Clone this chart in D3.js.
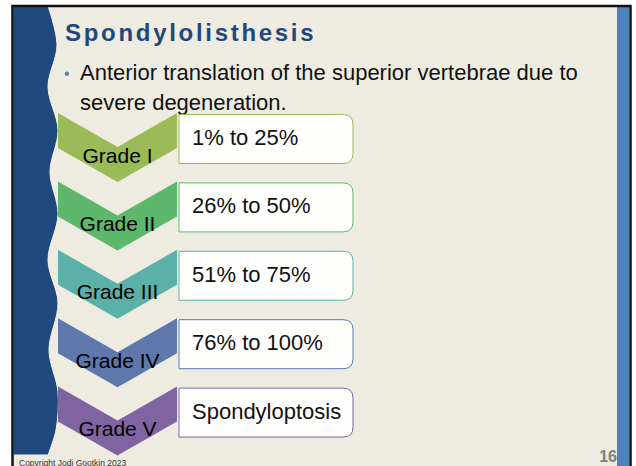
<!DOCTYPE html>
<html>
<head>
<meta charset="utf-8">
<script src="https://cdn.jsdelivr.net/npm/d3@7"></script>
<style>
  html, body { margin: 0; padding: 0; background: #fff; }
  svg { display: block; font-family: "Liberation Sans", Arial, sans-serif; }
</style>
</head>
<body>
<div id="slide"></div>
<script>
const title = 'Spondylolisthesis';
const bulletLines = ['Anterior translation of the superior vertebrae due to', 'severe degeneration.'];
const grades = ['Grade I', 'Grade II', 'Grade III', 'Grade IV', 'Grade V'];
const ranges = ['1% to 25%', '26% to 50%', '51% to 75%', '76% to 100%', 'Spondyloptosis'];
const gradeColors = ['#9BBB59', '#5DB86B', '#5BB1A8', '#5E78AC', '#8064A2'];
const copyright = 'Copyright Jodi Gootkin 2023';
const pageNum = '16';

const W = 636, H = 466;
const svg = d3.select('#slide').append('svg').attr('width', W).attr('height', H).attr('viewBox', `0 0 ${W} ${H}`);

// slide background + frame
svg.append('rect').attr('x', 13).attr('y', 6).attr('width', 617).attr('height', 470).attr('fill', '#EEECE1');
svg.append('rect').attr('x', 617).attr('y', 6).attr('width', 12).attr('height', 470).attr('fill', '#4F81BD');

// wavy band on the left (decoration)
const wave = [[48, 6], [57, 45], [48, 87], [58, 130], [50, 172], [58, 214], [48, 260], [58, 303], [49, 350], [58, 392], [56, 430], [48, 455]];
const waveLine = d3.line().curve(d3.curveCatmullRom.alpha(0.5));
svg.append('path')
  .attr('d', waveLine(wave) + `L13,455L13,6Z`)
  .attr('fill', '#1F497D')
  .attr('stroke', '#F4F3EC').attr('stroke-width', 1);

svg.append('path')
  .attr('d', `M12.5,476V6H630.5V476`)
  .attr('fill', 'none').attr('stroke', '#111').attr('stroke-width', 2.5);

// title + bullet
svg.append('text').attr('x', 65).attr('y', 41)
  .attr('font-size', 24).attr('font-weight', 'bold').attr('letter-spacing', 2.7)
  .attr('fill', '#1F497D').text(title);
svg.append('text').attr('x', 64).attr('y', 79).attr('font-size', 16).attr('fill', '#5B7FB0').text('•');
svg.selectAll('text.bl').data(bulletLines).enter().append('text')
  .attr('class', 'bl').attr('x', 80).attr('y', (d, i) => 80 + i * 30)
  .attr('font-size', 22).attr('fill', '#111').text(d => d);

// chevron list
const y = d3.scaleBand().domain(grades).range([113, 113 + 5 * 68.4]).padding(0);
const color = d3.scaleOrdinal().domain(grades).range(gradeColors);
const cx0 = 58, cx1 = 177, notch = 34, side = 35;
const cm = (cx0 + cx1) / 2;
const chevron = t => `M${cx0},${t}L${cm},${t + notch}L${cx1},${t}L${cx1},${t + side}L${cm},${t + side + notch}L${cx0},${t + side}Z`;

const rows = svg.selectAll('g.row').data(grades).enter().append('g').attr('class', 'row');
rows.append('path').attr('d', d => chevron(y(d))).attr('fill', d => color(d));
rows.append('text').attr('x', cm).attr('y', d => y(d) + 49.5).attr('text-anchor', 'middle')
  .attr('font-size', 21).attr('fill', '#000').text(d => d);

const bx0 = 179, bx1 = 353, bh = 49, r = 10;
const box = t => `M${bx0},${t}H${bx1 - r}Q${bx1},${t} ${bx1},${t + r}V${t + bh - r}Q${bx1},${t + bh} ${bx1 - r},${t + bh}H${bx0}Z`;
rows.append('path').attr('d', d => box(y(d) + 1.5))
  .attr('fill', '#FFFFFF').attr('fill-opacity', 0.92)
  .attr('stroke', d => color(d)).attr('stroke-width', 1);
rows.append('text').attr('x', 192).attr('y', d => y(d) + 32)
  .attr('font-size', 22).attr('fill', '#111').text((d, i) => ranges[i]);

// footer
svg.append('text').attr('x', 19).attr('y', 465.5).attr('font-size', 8.5).attr('fill', '#333').text(copyright);
svg.append('text').attr('x', 617).attr('y', 462).attr('text-anchor', 'end')
  .attr('font-size', 16).attr('font-weight', 'bold').attr('fill', '#7F7F7F').text(pageNum);
</script>
</body>
</html>
